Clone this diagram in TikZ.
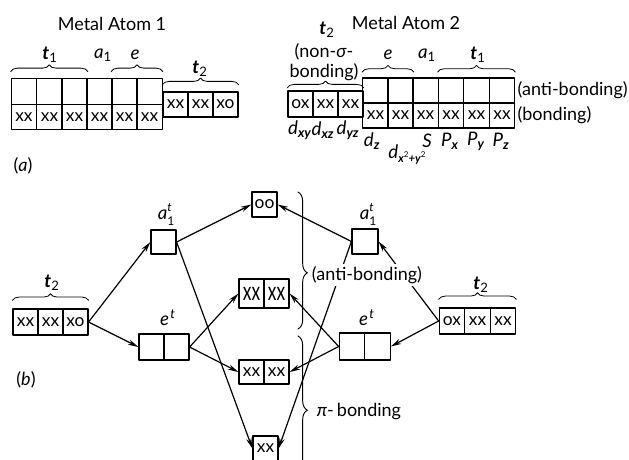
\documentclass[tikz,border=0pt]{standalone}
\usepackage{fontspec}
\usepackage{graphicx}
\setmainfont{Lato}
\usetikzlibrary{arrows.meta,decorations.pathreplacing}
\newcommand{\orb}[2]{\textit{#1}\textsubscript{#2}}
\newcommand{\tee}[1]{\textbf{\textit{t}}\textsubscript{#1}}
\newcommand{\dorb}[2]{\textit{#1}\textsubscript{\textbf{\textit{#2}}}}
\newcommand{\lvl}[1]{\textit{a}\rlap{\raisebox{6.5pt}{\fontsize{9}{9}\selectfont\textit{t}}}\raisebox{-4pt}{\fontsize{9}{9}\selectfont 1}}
\tikzset{
	cell/.style 2 args={draw,inner sep=0pt,minimum width=#1*0.75pt,minimum height=#2*0.75pt,font=\fontsize{13}{13}\selectfont},
	lbl/.style={inner sep=0pt,font=\fontsize{13.5}{15}\selectfont},
	sym/.style={inner sep=0pt,font=\fontsize{14}{15}\selectfont},
	brc/.style={decorate,decoration={brace,amplitude=5pt},line width=0.6pt},
	bigbrc/.style={decorate,decoration={brace,amplitude=7pt,aspect=#1},line width=0.7pt}
}
\begin{document}
\begin{tikzpicture}[x=0.75pt,y=-0.75pt,line width=0.9pt,line join=round,line cap=round,>={Stealth[length=8pt,width=4pt]}]
	\clip (0,0) rectangle (629,460);
	% (a) metal atom 1
	\node[lbl] (title1) at (112,24) {Metal Atom 1};
	\foreach \n/\x in {1/24,2/49.5,3/74.5,4/99.5,5/124.5,6/149.5}{
		\node[cell={25.3}{25.5}] (up\n) at (\x,91.5) {};
		\node[cell={25.3}{25.5}] (lo\n) at (\x,117) {xx};
	}
	\foreach \n/\x/\t in {1/175.5/xx,2/200.5/xx,3/225.5/xo}
		\node[cell={25}{25}] (mt\n) at (\x,104.5) {\t};
	\node[sym] (tone) at (50,55) {\tee{1}};
	\node[sym] (aone) at (103,55) {\orb{a}{1}};
	\node[sym] (eone) at (135,55) {\textit{e}};
	\node[sym] (ttwo) at (200,69) {\tee{2}};
	\draw[brc] ([yshift=5pt]up1.north west) -- ([yshift=5pt]up3.north east);
	\draw[brc] ([yshift=5pt]up5.north west) -- ([yshift=5pt]up6.north east);
	\draw[brc] ([yshift=5pt]mt1.north west) -- ([yshift=5pt]mt3.north east);
	\node[lbl] (parta) at (23,166) {(\textit{a})};
	% (a) metal atom 2
	\node[lbl] (title2) at (406,23) {Metal Atom 2};
	\foreach \n/\x/\t in {1/300.5/ox,2/325.5/xx,3/350.5/xx}
		\node[cell={25}{26}] (mu\n) at (\x,104) {\t};
	\foreach \n/\x in {1/375.5,2/400.5,3/425.5,4/451,5/476.5,6/502}{
		\node[cell={25.5}{25}] (au\n) at (\x,90.5) {};
		\node[cell={25.5}{25}] (al\n) at (\x,115.5) {xx};
	}
	\node[sym] (ttwob) at (327,30) {\tee{2}};
	\node[lbl,align=center] (nonb) at (324,62) {(non-\textit{σ}-\\bonding)};
	\node[sym] (etwo) at (388,55) {\textit{e}};
	\node[sym] (atwo) at (427,55) {\orb{a}{1}};
	\node[sym] (ttwoc) at (478,55) {\tee{1}};
	\draw[brc] ([yshift=2pt]mu1.north west) -- ([yshift=2pt]mu3.north east);
	\draw[brc] ([yshift=4pt]au1.north west) -- ([yshift=4pt]au2.north east);
	\draw[brc] ([yshift=4pt]au4.north west) -- ([yshift=4pt]au6.north east);
	\node[lbl,anchor=west] (antia) at (517,90) {(anti-bonding)};
	\node[lbl,anchor=west] (bonda) at (517,115) {(bonding)};
	\foreach \n/\x/\y/\t in {dxy/300/130/xy,dxz/323/130/xz,dyz/348/130/yz,dz/372/141/z}
		\node[sym] (\n) at (\x,\y) {\dorb{d}{\t}};
	\node[sym] (dxy2) at (407,155) {\textit{d}\raisebox{-3pt}{\fontsize{8.5}{9}\selectfont\textbf{\textit{x}}\raisebox{4pt}{\fontsize{6}{6}\selectfont 2}\textbf{\textit{+y}}\raisebox{4pt}{\fontsize{6}{6}\selectfont 2}}};
	\node[sym] (sorb) at (427,141) {\textit{S}};
	\foreach \n/\x/\t in {px/450/x,py/476/y,pz/501/z}
		\node[sym] (\n) at (\x,141) {\dorb{P}{\t}};
	% (b) the levels
	\foreach \n/\x/\t in {1/25.5/xx,2/50.5/xx,3/75.5/xo}
		\node[cell={25}{26}] (lt\n) at (\x,322) {\t};
	\foreach \n/\x/\t in {1/452/ox,2/477.5/xx,3/503/xx}
		\node[cell={25.5}{26}] (rt\n) at (\x,321) {\t};
	\node[cell={25}{24}] (la) at (163.5,242) {};
	\node[cell={26}{25}] (ra) at (365,241.5) {};
	\foreach \n/\x in {1/151.5,2/176.5}
		\node[cell={25}{26}] (le\n) at (\x,347) {};
	\foreach \n/\x in {1/352,2/377.5}
		\node[cell={25.5}{27}] (re\n) at (\x,346.5) {};
	\node[cell={25}{25}] (oo) at (264.5,204.5) {oo};
	\foreach \n/\x in {1/251.5,2/276.5}{
		\node[cell={25}{29}] (uu\n) at (\x,293.5) {\scalebox{1}[1.5]{xx}};
		\node[cell={25}{24}] (ll\n) at (\x,372) {xx};
	}
	\node[cell={25}{25}] (bb) at (265.5,448.5) {xx};
	\node[sym] (tl) at (52,283) {\tee{2}};
	\node[sym] (tr) at (481,285) {\tee{2}};
	\node[sym] (al) at (166,214) {\lvl{}};
	\node[sym] (ar) at (368,214) {\lvl{}};
	\node[sym] (el) at (168,318) {\textit{e}\textsuperscript{\kern1pt\textit{t}}};
	\node[sym] (er) at (367,318) {\textit{e}\textsuperscript{\kern1pt\textit{t}}};
	\draw[brc] ([yshift=6pt]lt1.north west) -- ([yshift=6pt]lt3.north east);
	\draw[brc] ([yshift=6pt]rt1.north west) -- ([yshift=6pt]rt3.north east);
	\node[lbl] (partb) at (26,380) {(\textit{b})};
	\draw[->] (lt3.east) -- (la.west);
	\draw[->] (lt3.east) -- (le1.west);
	\draw[->] (la.east) -- (oo.west);
	\draw[->] (la.east) -- (bb.west);
	\draw[->] (le2.east) -- (uu1.west);
	\draw[->] (le2.east) -- (ll1.west);
	\draw[->] (rt1.west) -- (ra.east);
	\draw[->] (rt1.west) -- (re2.east);
	\draw[->] (ra.west) -- (oo.east);
	\draw[->] (ra.west) -- (bb.east);
	\draw[->] (re1.west) -- (uu2.east);
	\draw[->] (re1.west) -- (ll2.east);
	\coordinate (upbrtop) at (298,192);
	\coordinate (upbrbot) at (298,329);
	\coordinate (pibrtop) at (298,336);
	\coordinate (pibrbot) at (298,476);
	\draw[bigbrc=0.59] (upbrtop) -- (upbrbot);
	\draw[bigbrc=0.53] (pibrtop) -- (pibrbot);
	\node[lbl,fill=white,inner xsep=1pt,inner ysep=2pt] (antib) at (367,275) {(anti-bonding)};
	\node[lbl,fill=white,inner xsep=1pt] (pib) at (359,412) {\textit{π}-\,bonding};
\end{tikzpicture}
\end{document}
